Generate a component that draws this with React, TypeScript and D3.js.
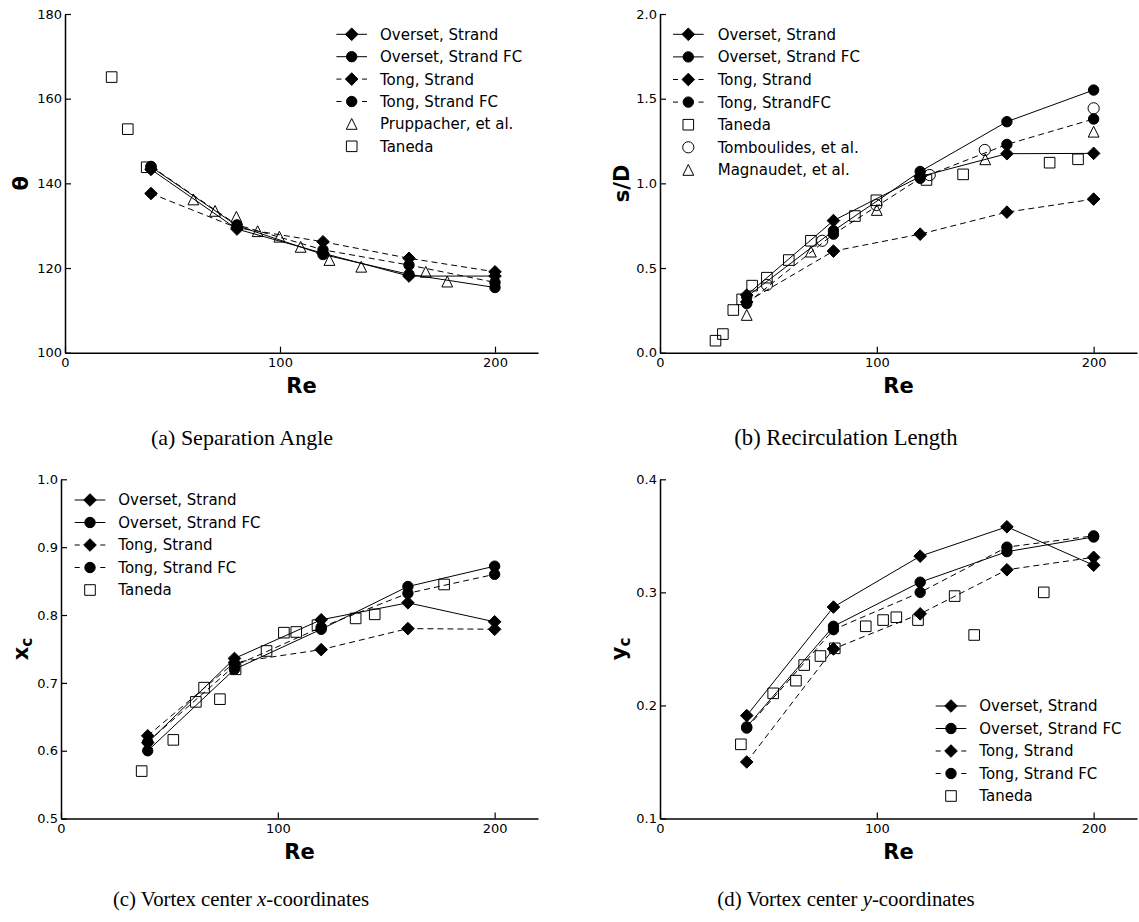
import * as d3 from "d3";
import { useEffect, useRef } from "react";

const WIDTH = 1139;
const HEIGHT = 922;
const SANS = "DejaVu Sans, Verdana, sans-serif";
const SERIF = "Liberation Serif, Times New Roman, serif";

// Reynolds numbers of the computed cases
const reSim = [40, 80, 120, 160, 200];

// (a) separation angle
const thetaOversetStrand = [143.3, 129.2, 123.5, 118.1, 118.1];
const thetaOversetStrandFC = [143.9, 130.0, 123.2, 118.5, 115.4];
const thetaTongStrand = [137.6, 129.5, 126.2, 122.3, 119.1];
const thetaTongStrandFC = [144.0, 130.2, 124.3, 120.7, 116.6];
const pruppacherRe = [59.7, 69.8, 79.7, 89.6, 99.7, 109.6, 123, 137.8, 167.8, 177.8];
const pruppacherTheta = [136.2, 133.5, 132.1, 128.7, 127.4, 125.0, 121.9, 120.3, 119.1, 116.8];
const tanedaThetaRe = [21.7, 29.2, 38];
const tanedaTheta = [165.1, 152.8, 143.8];

// (b) recirculation length
const sOversetStrand = [0.34, 0.78, 1.04, 1.175, 1.177];
const sOversetStrandFC = [0.33, 0.72, 1.07, 1.364, 1.551];
const sTongStrand = [0.3, 0.6, 0.7, 0.83, 0.907];
const sTongStrandFC = [0.29, 0.7, 1.03, 1.23, 1.38];
const tanedaSRe = [25.6, 29, 33.8, 37.9, 42.5, 49.3, 59.4, 69.6, 89.9, 99.8, 122.9, 139.8, 179.7, 192.8];
const tanedaS = [0.071, 0.11, 0.252, 0.315, 0.396, 0.443, 0.547, 0.661, 0.807, 0.9, 1.02, 1.053, 1.122, 1.142];
const tomboulidesRe = [49.3, 74.8, 99.8, 124.4, 149.8, 200];
const tomboulidesS = [0.4, 0.661, 0.872, 1.049, 1.197, 1.443];
const magnaudetRe = [40, 69.6, 100, 150, 200];
const magnaudetS = [0.223, 0.597, 0.843, 1.142, 1.305];

// (c) vortex center x
const xcOversetStrand = [0.612, 0.736, 0.793, 0.818, 0.79];
const xcOversetStrandFC = [0.6, 0.72, 0.779, 0.842, 0.872];
const xcTongStrand = [0.622, 0.73, 0.749, 0.78, 0.779];
const xcTongStrandFC = [0.613, 0.725, 0.782, 0.832, 0.86];
const tanedaXcRe = [37.2, 51.8, 62.2, 66, 73.3, 80.5, 94.8, 102.8, 108.5, 118.3, 135.9, 144.7, 176.7];
const tanedaXc = [0.57, 0.616, 0.672, 0.693, 0.676, 0.72, 0.747, 0.774, 0.775, 0.785, 0.795, 0.801, 0.845];

// (d) vortex center y
const ycOversetStrand = [0.191, 0.287, 0.332, 0.358, 0.324];
const ycOversetStrandFC = [0.181, 0.27, 0.309, 0.336, 0.349];
const ycTongStrand = [0.15, 0.25, 0.281, 0.32, 0.331];
const ycTongStrandFC = [0.18, 0.267, 0.3, 0.34, 0.35];
const tanedaYcRe = [37.3, 52.2, 62.7, 66.5, 74, 80.6, 94.9, 102.9, 109, 119, 135.9, 144.9, 177];
const tanedaYc = [0.1656, 0.2107, 0.2219, 0.2357, 0.2437, 0.2505, 0.27, 0.2755, 0.278, 0.2755, 0.2967, 0.2623, 0.3];

const reTicks = [0, 100, 200];

type Series = {
  label: string;
  re: number[];
  values: number[];
  marker: string;
  filled: boolean;
  line: string;
};

const sim = (vals: number[][], fcLabel = "Tong, Strand FC"): Series[] => [
  { label: "Overset, Strand", re: reSim, values: vals[0], marker: "diamond", filled: true, line: "solid" },
  { label: "Overset, Strand FC", re: reSim, values: vals[1], marker: "circle", filled: true, line: "solid" },
  { label: "Tong, Strand", re: reSim, values: vals[2], marker: "diamond", filled: true, line: "dashed" },
  { label: fcLabel, re: reSim, values: vals[3], marker: "circle", filled: true, line: "dashed" },
];

const panels = [
  {
    box: { left: 65, right: 538, top: 14, bottom: 352.7 },
    yDomain: [100, 180],
    yTicks: [100, 120, 140, 160, 180],
    yFormat: d3.format("d"),
    yLabel: ["θ", ""],
    yLabelX: 27.5,
    legend: { x: 351.7, y: 34.3, dy: 22.4, textX: 380 },
    caption: ["(a) Separation Angle", "", ""],
    captionX: 242,
    captionSize: 22,
    series: [
      ...sim([thetaOversetStrand, thetaOversetStrandFC, thetaTongStrand, thetaTongStrandFC]),
      { label: "Pruppacher, et al.", re: pruppacherRe, values: pruppacherTheta, marker: "triangle", filled: false, line: "none" },
      { label: "Taneda", re: tanedaThetaRe, values: tanedaTheta, marker: "square", filled: false, line: "none" },
    ],
  },
  {
    box: { left: 660, right: 1137, top: 14, bottom: 352.7 },
    yDomain: [0, 2],
    yTicks: [0, 0.5, 1, 1.5, 2],
    yFormat: d3.format(".1f"),
    yLabel: ["s/D", ""],
    yLabelX: 629,
    legend: { x: 688.3, y: 34.3, dy: 22.6, textX: 717.7 },
    caption: ["(b) Recirculation Length", "", ""],
    captionX: 846,
    captionSize: 22.6,
    series: [
      ...sim([sOversetStrand, sOversetStrandFC, sTongStrand, sTongStrandFC], "Tong, StrandFC"),
      { label: "Taneda", re: tanedaSRe, values: tanedaS, marker: "square", filled: false, line: "none" },
      { label: "Tomboulides, et al.", re: tomboulidesRe, values: tomboulidesS, marker: "ocircle", filled: false, line: "none" },
      { label: "Magnaudet, et al.", re: magnaudetRe, values: magnaudetS, marker: "triangle", filled: false, line: "none" },
    ],
  },
  {
    box: { left: 61, right: 538, top: 479.3, bottom: 818.6 },
    yDomain: [0.5, 1.0],
    yTicks: [0.5, 0.6, 0.7, 0.8, 0.9, 1.0],
    yFormat: d3.format(".1f"),
    yLabel: ["x", "c"],
    yLabelX: 28,
    legend: { x: 90, y: 500, dy: 22.5, textX: 118.3 },
    caption: ["(c) Vortex center ", "x", "-coordinates"],
    captionX: 241,
    captionSize: 20.8,
    series: [
      ...sim([xcOversetStrand, xcOversetStrandFC, xcTongStrand, xcTongStrandFC]),
      { label: "Taneda", re: tanedaXcRe, values: tanedaXc, marker: "square", filled: false, line: "none" },
    ],
  },
  {
    box: { left: 660, right: 1137, top: 479.3, bottom: 818.5 },
    yDomain: [0.1, 0.4],
    yTicks: [0.1, 0.2, 0.3, 0.4],
    yFormat: d3.format(".1f"),
    yLabel: ["y", "c"],
    yLabelX: 626,
    legend: { x: 951, y: 706, dy: 22.5, textX: 979.3 },
    caption: ["(d) Vortex center ", "y", "-coordinates"],
    captionX: 846,
    captionSize: 20.8,
    series: [
      ...sim([ycOversetStrand, ycOversetStrandFC, ycTongStrand, ycTongStrandFC]),
      { label: "Taneda", re: tanedaYcRe, values: tanedaYc, marker: "square", filled: false, line: "none" },
    ],
  },
];

function markerPath(kind: string): string {
  const p = d3.path();
  if (kind === "diamond") {
    const r = 6.3;
    p.moveTo(0, -r);
    p.lineTo(r, 0);
    p.lineTo(0, r);
    p.lineTo(-r, 0);
    p.closePath();
  } else if (kind === "circle") {
    p.arc(0, 0, 5.2, 0, 2 * Math.PI);
  } else if (kind === "ocircle") {
    p.arc(0, 0, 5.6, 0, 2 * Math.PI);
  } else if (kind === "square") {
    p.rect(-5.3, -5.3, 10.6, 10.6);
  } else {
    const h = 5.4;
    p.moveTo(0, -h);
    p.lineTo(h, h);
    p.lineTo(-h, h);
    p.closePath();
  }
  return p.toString();
}

export default function App() {
  const svgRef = useRef<SVGSVGElement>(null);

  useEffect(() => {
    const svg = d3.select(svgRef.current);
    svg.selectAll("*").remove();
    svg.append("rect").attr("width", WIDTH).attr("height", HEIGHT).attr("fill", "#fff");

    panels.forEach((panel) => {
      const { box } = panel;
      const x = d3.scaleLinear().domain([0, 220]).range([box.left, box.right]);
      const y = d3.scaleLinear().domain(panel.yDomain).range([box.bottom, box.top]);
      const g = svg.append("g");

      // data
      const line = d3
        .line<[number, number]>()
        .x((d) => x(d[0]))
        .y((d) => y(d[1]));
      panel.series.forEach((s) => {
        const pts: [number, number][] = s.re.map((r, i) => [r, s.values[i]]);
        if (s.line !== "none") {
          g.append("path")
            .attr("d", line(pts))
            .attr("fill", "none")
            .attr("stroke", "#000")
            .attr("stroke-width", 1)
            .attr("stroke-dasharray", s.line === "dashed" ? "6,4" : null);
        }
        g.append("g")
          .selectAll("path")
          .data(pts)
          .enter()
          .append("path")
          .attr("transform", (d) => `translate(${x(d[0])},${y(d[1])})`)
          .attr("d", markerPath(s.marker))
          .attr("fill", s.filled ? "#000" : "none")
          .attr("stroke", "#000")
          .attr("stroke-width", 1);
      });

      // axes (left + bottom spines only, ticks inward)
      const ax = g.append("g");
      ax.append("g")
        .attr("transform", `translate(0,${box.bottom})`)
        .call(d3.axisBottom(x).tickValues(reTicks).tickSize(-6).tickSizeOuter(0).tickPadding(5).tickFormat(d3.format("d")));
      ax.append("g")
        .attr("transform", `translate(${box.left},0)`)
        .call(d3.axisLeft(y).tickValues(panel.yTicks).tickSize(-6).tickSizeOuter(0).tickPadding(3).tickFormat(panel.yFormat as any));
      ax.selectAll(".domain").attr("stroke", "#000").attr("stroke-width", 1.5);
      ax.selectAll(".tick line").attr("stroke", "#000").attr("stroke-width", 1.2);
      ax.selectAll(".tick text").attr("font-family", SANS).attr("font-size", 13).attr("fill", "#000");

      // axis titles
      g.append("text")
        .attr("x", (box.left + box.right) / 2)
        .attr("y", box.bottom + 40.5)
        .attr("text-anchor", "middle")
        .attr("font-family", SANS)
        .attr("font-weight", "bold")
        .attr("font-size", 21)
        .text("Re");

      const yl = g
        .append("text")
        .attr("transform", `translate(${panel.yLabelX},${(box.top + box.bottom) / 2}) rotate(-90)`)
        .attr("text-anchor", "middle")
        .attr("font-family", SANS)
        .attr("font-weight", "bold")
        .attr("font-size", 21);
      yl.append("tspan").text(panel.yLabel[0]);
      if (panel.yLabel[1]) {
        yl.append("tspan").attr("font-size", 15).attr("dy", 4).text(panel.yLabel[1]);
      }

      // legend
      const lg = g.append("g");
      panel.series.forEach((s, i) => {
        const ly = panel.legend.y + i * panel.legend.dy;
        const lx = panel.legend.x;
        if (s.line !== "none") {
          lg.append("line")
            .attr("x1", lx - 15.3)
            .attr("x2", lx + 15.3)
            .attr("y1", ly)
            .attr("y2", ly)
            .attr("stroke", "#000")
            .attr("stroke-width", 1)
            .attr("stroke-dasharray", s.line === "dashed" ? "5,20.6" : null);
        }
        lg.append("path")
          .attr("transform", `translate(${lx},${ly})`)
          .attr("d", markerPath(s.marker))
          .attr("fill", s.filled ? "#000" : "none")
          .attr("stroke", "#000")
          .attr("stroke-width", 1);
        lg.append("text")
          .attr("x", panel.legend.textX)
          .attr("y", ly)
          .attr("dy", "0.36em")
          .attr("font-family", SANS)
          .attr("font-size", 15)
          .attr("fill", "#000")
          .text(s.label);
      });

      // caption
      const cap = g
        .append("text")
        .attr("x", panel.captionX)
        .attr("y", box.bottom + 92.5 + (box.top > 300 ? -5 : 0))
        .attr("text-anchor", "middle")
        .attr("font-family", SERIF)
        .attr("font-size", panel.captionSize)
        .attr("fill", "#000");
      cap.append("tspan").text(panel.caption[0]);
      if (panel.caption[1]) {
        cap.append("tspan").attr("font-style", "italic").text(panel.caption[1]);
        cap.append("tspan").text(panel.caption[2]);
      }
    });
  }, []);

  return (
    <svg
      ref={svgRef}
      width={WIDTH}
      height={HEIGHT}
      style={{ position: "absolute", left: 0, top: 0 }}
    />
  );
}
